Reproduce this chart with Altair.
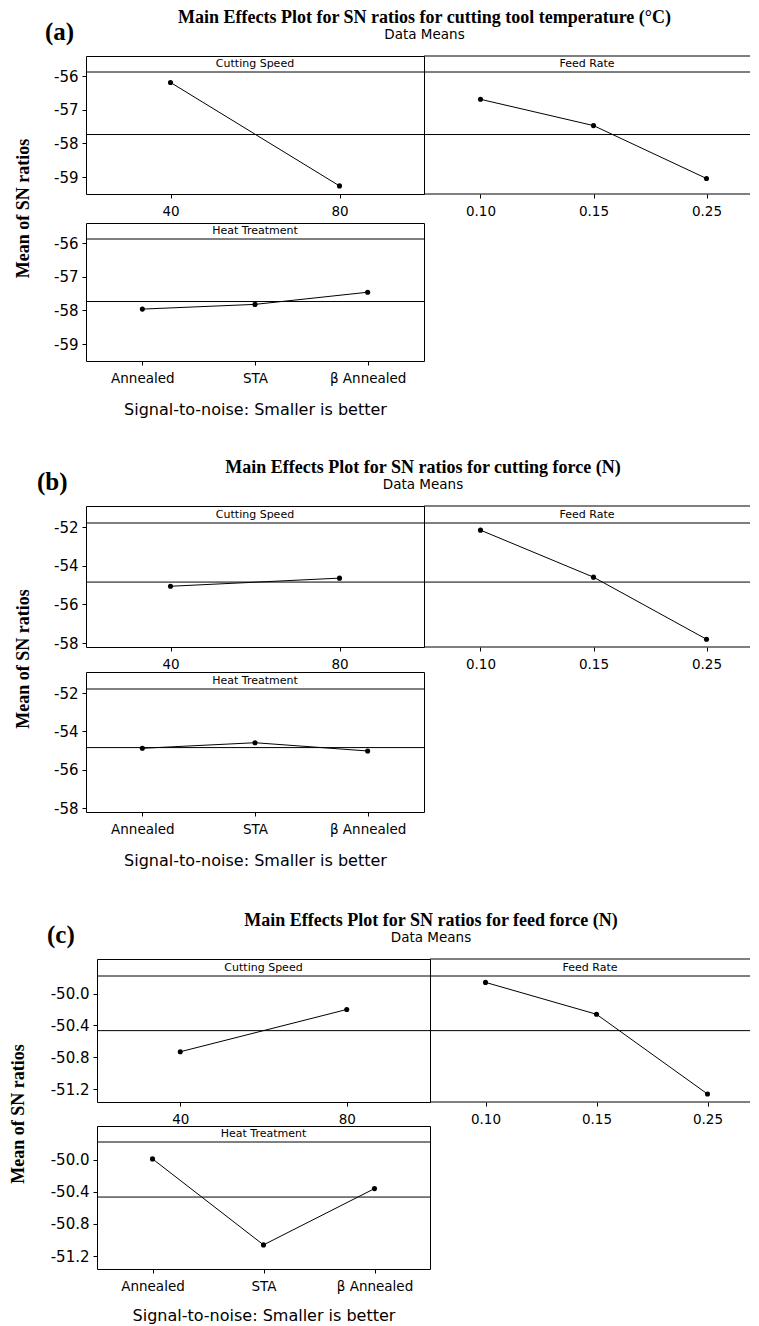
import altair as alt
import pandas as pd
import numpy as np

# ---------------- data ----------------
cs_levels = ["40", "80"]
fr_levels = ["0.10", "0.15", "0.25"]
ht_levels = ["Annealed", "STA", "β Annealed"]

temp_cs = [-56.19, -59.26]
temp_fr = [-56.69, -57.47, -59.04]
temp_ht = [-57.96, -57.82, -57.46]

force_cs = [-55.06, -54.64]
force_fr = [-52.16, -54.59, -57.80]
force_ht = [-54.88, -54.59, -55.02]

feed_cs = [-50.73, -50.20]
feed_fr = [-49.86, -50.26, -51.26]
feed_ht = [-49.99, -51.06, -50.36]

titles = [
    "Main Effects Plot for SN ratios for cutting tool temperature (°C)",
    "Main Effects Plot for SN ratios for cutting force (N)",
    "Main Effects Plot for SN ratios for feed force (N)",
]
tags = ["(a)", "(b)", "(c)"]
subtitle = "Data Means"
ylabel = "Mean of SN ratios"
footer = "Signal-to-noise: Smaller is better"
factor_names = ["Cutting Speed", "Feed Rate", "Heat Treatment"]

yticks_a = [-59, -58, -57, -56]
yticks_b = [-58, -56, -54, -52]
yticks_c = [-51.2, -50.8, -50.4, -50.0]

SANS = "DejaVu Sans"
SERIF = "Liberation Serif"
MINUS_FIX = "replace(datum.label, '\u2212', '-')"
NOSTROKE = alt.ViewBackground(stroke=None)


def blank(w, h):
    # invisible spacer whose bounds are exactly its own box
    return alt.Chart(pd.DataFrame({"a": [0]})).mark_rule(
        opacity=0, strokeWidth=0).encode(
        x=alt.value(w / 2), y=alt.value(0), y2=alt.value(h)).properties(
        width=w, height=h, view=NOSTROKE)


def panel(name, levels, values, gm, ydom, yticks, yfmt, w, sh, ph,
          show_y=True, open_right=False, xtitle=None, title=None,
          full_w=None, title_pad=17):
    df = pd.DataFrame({"level": levels, "value": values,
                       "i": list(range(len(levels)))})
    base = alt.Chart(df)
    lo, hi = ydom
    hi_ext = hi + (hi - lo) * sh / ph          # room for the strip on top
    yscale = alt.Scale(domain=[lo, hi_ext], nice=False, zero=False)
    xaxis_kw = dict(labelAngle=0, labelFontSize=13.5, tickSize=4,
                    labelPadding=6, domain=False,
                    tickColor="black", labelColor="black", labelFont=SANS)
    if xtitle is not None:
        xaxis_kw.update(title=xtitle, titleFont=SANS, titleFontSize=16,
                        titleFontWeight="normal", titleColor="black",
                        titlePadding=title_pad)
    else:
        xaxis_kw.update(title=None)
    xscale_kw = dict(type="point", padding=0.5)
    if full_w is not None:
        # panel is cut by the page edge: keep the level spacing of the
        # full-width panel inside the narrower visible view
        n = len(levels)
        step = full_w / n
        xscale_kw["padding"] = (w / step - (n - 1)) / 2
        xscale_kw["align"] = (step / 2) / (w - (n - 1) * step)
    xenc = alt.X("level:N", sort=levels, scale=alt.Scale(**xscale_kw),
                 axis=alt.Axis(**xaxis_kw))
    if show_y:
        yaxis = alt.Axis(values=yticks, format=yfmt, labelExpr=MINUS_FIX,
                         title=None, grid=False, tickSize=4, labelPadding=4,
                         labelFontSize=15, labelFont=SANS, labelColor="black",
                         tickColor="black", domain=False)
    else:
        yaxis = None
    yenc = alt.Y("value:Q", scale=yscale, axis=yaxis)
    ref = alt.Chart(pd.DataFrame({"gm": [gm]})).mark_rule(
        color="black", strokeWidth=1).encode(
        y=alt.Y("gm:Q", scale=yscale, axis=yaxis))
    line = base.mark_line(color="black", strokeWidth=1).encode(
        x=xenc, y=yenc, order="i:Q")
    pts = base.mark_circle(color="black", size=26, opacity=1).encode(x=xenc, y=yenc)

    lab = alt.Chart(pd.DataFrame({"label": [name]}))
    strip_txt = lab.mark_text(font=SANS, fontSize=11, color="black",
                              baseline="middle", align="center").encode(
        x=alt.value(w / 2), y=alt.value(sh / 2), text="label:N")
    strip_line = lab.mark_rule(color="black", strokeWidth=1).encode(
        x=alt.value(0), x2=alt.value(w), y=alt.value(sh))
    layers = [ref, line, pts, strip_txt, strip_line]
    if open_right:
        # frame lines for the panel that runs off the right edge
        layers.append(lab.mark_rule(color="black", strokeWidth=1).encode(
            x=alt.value(0), x2=alt.value(w), y=alt.value(0)))
        layers.append(lab.mark_rule(color="black", strokeWidth=1).encode(
            x=alt.value(0), x2=alt.value(w), y=alt.value(sh + ph)))
    props = dict(width=w, height=sh + ph)
    if open_right:
        props["view"] = NOSTROKE
    if title is not None:
        props["title"] = title
    return alt.layer(*layers).properties(**props)


def figure(k, cs, fr, ht, ydom, yticks, yfmt, grid_left, cs_w, fr_w, fr_full,
           top_sp, sh1, ph1, gap, sh2, ph2, bot_sp, ylab_x, tag_x,
           title_center, foot_pad=17):
    gm = float(np.mean([np.mean(cs), np.mean(fr), np.mean(ht)]))
    lead_w = grid_left - 8
    H = sh1 + ph1 + gap + sh2 + ph2
    main_title = alt.TitleParams(
        text=titles[k], subtitle=subtitle, anchor="middle", frame="group",
        dx=title_center - (grid_left + cs_w / 2), offset=14.5,
        font=SERIF, fontSize=18, fontWeight="bold", color="black",
        subtitleFont=SANS, subtitleFontSize=13.5, subtitleColor="black",
        subtitlePadding=1.5)
    tag_title = alt.TitleParams(
        text=tags[k], anchor="start", frame="group", dx=tag_x - 8, offset=11,
        font=SERIF, fontSize=25, fontWeight="bold", color="black")
    lead = alt.Chart(pd.DataFrame({"t": [ylabel]})).mark_text(
        angle=270, font=SERIF, fontWeight="bold", fontSize=18, color="black",
        baseline="middle", align="center").encode(
        x=alt.value(ylab_x - 8), y=alt.value(H / 2), text="t:N").properties(
        width=lead_w, height=sh1 + ph1, view=NOSTROKE, title=tag_title)
    cs_p = panel(factor_names[0], cs_levels, cs, gm, ydom, yticks, yfmt,
                 cs_w, sh1, ph1, title=main_title)
    fr_p = panel(factor_names[1], fr_levels, fr, gm, ydom, yticks, yfmt,
                 fr_w, sh1, ph1, show_y=False, open_right=True,
                 full_w=fr_full)
    ht_p = panel(factor_names[2], ht_levels, ht, gm, ydom, yticks, yfmt,
                 cs_w, sh2, ph2, xtitle=footer, title_pad=foot_pad)
    cells = [
        blank(20, top_sp), blank(20, top_sp), blank(20, top_sp),
        lead, cs_p, fr_p,
        blank(lead_w, gap), blank(1, gap), blank(1, gap),
        blank(lead_w, sh2 + ph2), ht_p, blank(1, sh2 + ph2),
        blank(20, bot_sp), blank(20, bot_sp), blank(20, bot_sp),
    ]
    return alt.concat(*cells, columns=3, spacing=0, bounds="flush")


fig_a = figure(0, temp_cs, temp_fr, temp_ht, [-59.5, -55.88], yticks_a, ".0f",
               86, 338, 326, 339, 48, 16, 122, 29, 16, 122, 85, 24, 45, 424.5)
fig_b = figure(1, force_cs, force_fr, force_ht, [-58.2, -51.79], yticks_b, ".0f",
               86, 338, 326, 339, 60, 17, 124, 25, 17, 123, 87, 24, 37, 423)
fig_c = figure(2, feed_cs, feed_fr, feed_ht, [-51.36, -49.78], yticks_c, ".1f",
               97, 333, 320, 333, 60, 17, 126, 24, 16, 127, 48, 19, 47, 431,
               foot_pad=15)

chart = alt.vconcat(fig_a, fig_b, fig_c, spacing=0).properties(
    padding=0
).configure_view(stroke="black", strokeWidth=1)

chart.save("out.html", embed_options={"renderer": "svg", "actions": False})
